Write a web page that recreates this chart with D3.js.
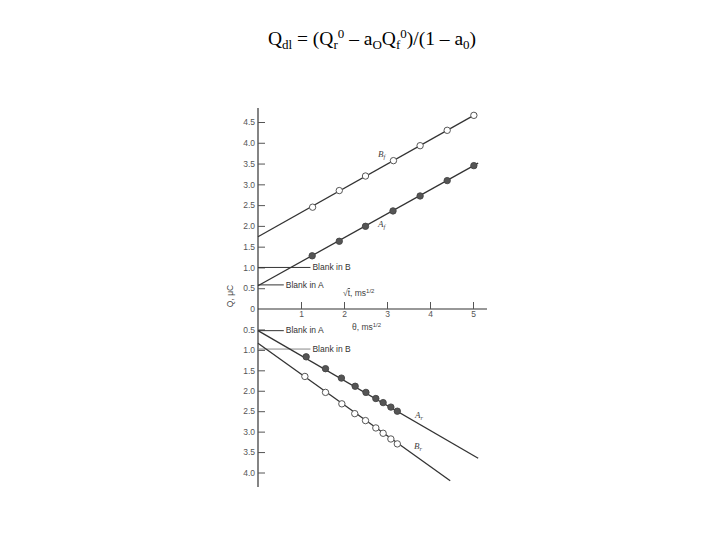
<!DOCTYPE html>
<html><head><meta charset="utf-8">
<script src="https://cdn.jsdelivr.net/npm/d3@7"></script>
<style>body{margin:0;background:#fff}</style>
</head><body><svg id="c" width="720" height="540"></svg>
<script>
// Upper panel: Q_f vs sqrt(t)
const xTicks = [1, 2, 3, 4, 5];
const yUpperTicks = [0.5, 1.0, 1.5, 2.0, 2.5, 3.0, 3.5, 4.0, 4.5];
const yLowerTicks = [0.5, 1.0, 1.5, 2.0, 2.5, 3.0, 3.5, 4.0];
const BfPoints = [[1.27,2.45],[1.89,2.85],[2.50,3.20],[3.15,3.57],[3.77,3.93],[4.40,4.30],[5.02,4.66]];
const AfPoints = [[1.26,1.28],[1.89,1.63],[2.50,1.99],[3.14,2.36],[3.77,2.72],[4.40,3.09],[5.02,3.45]];
const BfLine = [[0,1.74],[5.09,4.70]];
const AfLine = [[0,0.56],[5.12,3.51]];
// Lower panel: Q_r vs theta
const ArPoints = [[1.12,1.17],[1.57,1.46],[1.94,1.69],[2.26,1.89],[2.51,2.04],[2.74,2.19],[2.91,2.29],[3.09,2.40],[3.24,2.50]];
const BrPoints = [[1.09,1.65],[1.57,2.04],[1.95,2.32],[2.25,2.56],[2.50,2.73],[2.74,2.91],[2.91,3.04],[3.09,3.18],[3.24,3.30]];
const ArLine = [[0,0.53],[5.12,3.65]];
const BrLine = [[0,0.84],[4.47,4.20]];
const upperBlanks = [{label:"Blank in B", v:1.0, len:1.22},{label:"Blank in A", v:0.58, len:0.6}];
const lowerBlanks = [{label:"Blank in A", v:0.53, len:0.6},{label:"Blank in B", v:0.98, len:1.22}];

const svg = d3.select("#c");
const x = d3.scaleLinear().domain([0,5]).range([258,473]);
const yU = d3.scaleLinear().domain([0,4.5]).range([309,122]);
const yL = d3.scaleLinear().domain([0,4.0]).range([309,472.5]);
const ink = "#333", tickCol = "#555";
const font = "Liberation Sans, Arial, sans-serif";

// title
const t = svg.append("text").attr("x",372).attr("y",45).attr("text-anchor","middle")
  .attr("font-family","Liberation Serif, Times New Roman, serif").attr("font-size",19.5).attr("fill","#000");
t.append("tspan").text("Q");
t.append("tspan").attr("dy",4).attr("font-size",13).text("dl");
t.append("tspan").attr("dy",-4).text(" = (Q");
t.append("tspan").attr("dy",4).attr("font-size",13).text("r");
t.append("tspan").attr("dy",-11).attr("font-size",13).text("0");
t.append("tspan").attr("dy",7).text(" – a");
t.append("tspan").attr("dy",4).attr("font-size",13).text("O");
t.append("tspan").attr("dy",-4).text("Q");
t.append("tspan").attr("dy",4).attr("font-size",13).text("f");
t.append("tspan").attr("dy",-11).attr("font-size",13).text("0");
t.append("tspan").attr("dy",7).text(")/(1 – a");
t.append("tspan").attr("dy",4).attr("font-size",13).text("0");
t.append("tspan").attr("dy",-4).text(")");

// axes lines
svg.append("line").attr("x1",258).attr("x2",258).attr("y1",108).attr("y2",487).attr("stroke",ink).attr("stroke-width",1.2);
svg.append("line").attr("x1",258).attr("x2",487).attr("y1",309).attr("y2",309).attr("stroke",ink).attr("stroke-width",1.2);

// y ticks upper (right side ticks, labels left)
const yAxisU = d3.axisRight(yU).tickValues(yUpperTicks).tickSize(7).tickFormat(d3.format(".1f"));
const gU = svg.append("g").attr("transform","translate(258,0)").call(yAxisU);
const yAxisL = d3.axisRight(yL).tickValues(yLowerTicks).tickSize(7).tickFormat(d3.format(".1f"));
const gL = svg.append("g").attr("transform","translate(258,0)").call(yAxisL);
[gU,gL].forEach(g=>{
  g.select(".domain").remove();
  g.selectAll(".tick line").attr("stroke",tickCol);
  g.selectAll(".tick text").attr("x",-3).attr("text-anchor","end").attr("fill",tickCol)
   .attr("font-family",font).attr("font-size",8.5);
});
svg.append("text").attr("x",255).attr("y",yU(0)).attr("dy","0.32em").attr("text-anchor","end")
  .attr("fill",tickCol).attr("font-family",font).attr("font-size",8.5).text("0");

// x ticks: upward tick, labels below
const xAxis = d3.axisTop(x).tickValues(xTicks).tickSize(7).tickFormat(d3.format("d"));
const gX = svg.append("g").attr("transform","translate(0,309)").call(xAxis);
gX.select(".domain").remove();
gX.selectAll(".tick line").attr("stroke",tickCol);
gX.selectAll(".tick text").attr("y",7.5).attr("dy",0).attr("fill",tickCol).attr("font-family",font).attr("font-size",8.5);

// axis labels
const xl1 = svg.append("text").attr("x",343).attr("y",296).attr("fill","#444").attr("font-family",font).attr("font-size",8.5);
xl1.append("tspan").text("√");
xl1.append("tspan").attr("text-decoration","overline").text("t");
xl1.append("tspan").text(", ms");
xl1.append("tspan").attr("dy",-3).attr("font-size",6).text("1/2");
const xl2 = svg.append("text").attr("x",352).attr("y",330).attr("fill","#444").attr("font-family",font).attr("font-size",8.5);
xl2.append("tspan").text("θ, ms");
xl2.append("tspan").attr("dy",-3).attr("font-size",6).text("1/2");
svg.append("text").attr("transform","translate(233,296) rotate(-90)").attr("text-anchor","middle")
  .attr("fill","#444").attr("font-family",font).attr("font-size",8.5).text("Q, μC");

// blank lines
function blanks(arr, ys, grayB){
  arr.forEach(b=>{
    const xe = x(b.len);
    svg.append("line").attr("x1",258).attr("x2",xe).attr("y1",ys(b.v)).attr("y2",ys(b.v))
      .attr("stroke", grayB && b.label==="Blank in B" ? "#888" : ink).attr("stroke-width",1);
    svg.append("text").attr("x",xe+2).attr("y",ys(b.v)).attr("dy","0.33em").attr("fill","#333")
      .attr("font-family",font).attr("font-size",8.5).text(b.label);
  });
}
blanks(upperBlanks, yU, false);
blanks(lowerBlanks, yL, true);

// fitted lines
const lineU = d3.line().x(d=>x(d[0])).y(d=>yU(d[1]));
const lineL = d3.line().x(d=>x(d[0])).y(d=>yL(d[1]));
[BfLine, AfLine].forEach(l=>svg.append("path").attr("d",lineU(l)).attr("stroke",ink).attr("stroke-width",1.3).attr("fill","none"));
[ArLine, BrLine].forEach(l=>svg.append("path").attr("d",lineL(l)).attr("stroke",ink).attr("stroke-width",1.3).attr("fill","none"));

// points
function pts(arr, ys, filled){
  svg.append("g").selectAll("circle").data(arr).join("circle")
    .attr("cx",d=>x(d[0])).attr("cy",d=>ys(d[1])).attr("r",3.2)
    .attr("fill", filled ? "#555" : "#fff").attr("stroke", "#444").attr("stroke-width",0.9);
}
pts(BfPoints, yU, false);
pts(AfPoints, yU, true);
pts(ArPoints, yL, true);
pts(BrPoints, yL, false);

// series labels (italic with subscript)
function lab(px, py, main, sub){
  const tx = svg.append("text").attr("x",px).attr("y",py).attr("fill","#444")
    .attr("font-family","Liberation Serif, Times New Roman, serif").attr("font-style","italic").attr("font-size",9);
  tx.append("tspan").text(main);
  tx.append("tspan").attr("dy",2).attr("font-size",6.5).text(sub);
}
lab(378,157,"B","f");
lab(378,227,"A","f");
lab(415,418,"A","r");
lab(414,449,"B","r");
</script></body></html>
